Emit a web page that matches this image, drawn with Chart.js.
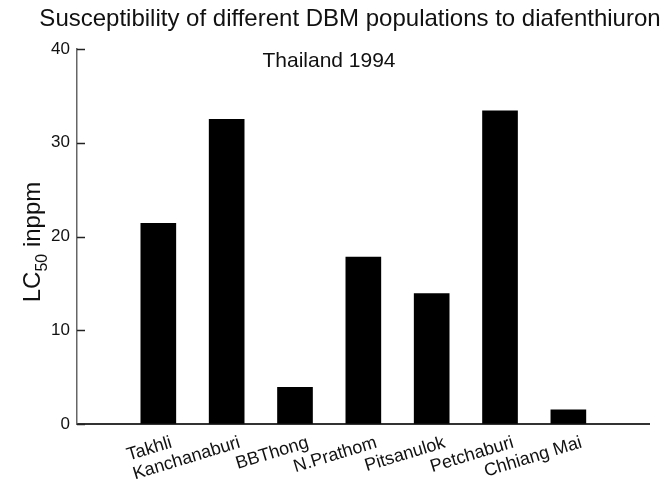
<!DOCTYPE html>
<html><head><meta charset="utf-8">
<script src="https://cdn.jsdelivr.net/npm/chart.js@4/dist/chart.umd.min.js"></script>
<style>html,body{margin:0;padding:0;background:#fff;}#wrap{width:666px;height:489px;position:relative;}</style>
</head><body><div id="wrap"><canvas id="c" width="666" height="489"></canvas></div>
<script>
const categories = ['Takhli', 'Kanchanaburi', 'BBThong', 'N.Prathom', 'Pitsanulok', 'Petchaburi', 'Chhiang Mai'];
const lc50Values = [21.4, 32.5, 3.9, 17.8, 13.9, 33.4, 1.5];
const yTicks = [0, 10, 20, 30, 40];
const titleText = 'Susceptibility of different DBM populations to diafenthiuron';
const subtitleText = 'Thailand 1994';
const yLabelMain = 'LC';
const yLabelSub = '50';
const yLabelRest = ' inppm';

const FONT = '"Liberation Sans", Arial, Helvetica, sans-serif';

const textPlugin = {
  id: 'texts',
  afterDraw(chart) {
    const ctx = chart.ctx;
    const ys = chart.scales.y;
    ctx.save();
    ctx.strokeStyle = '#222';
    ctx.lineWidth = 1.5;
    yTicks.forEach(v => {
      const py = Math.round(ys.getPixelForValue(v)) + 0.5;
      ctx.beginPath();
      ctx.moveTo(ys.right, py);
      ctx.lineTo(ys.right + 8, py);
      ctx.stroke();
    });
    ctx.restore();

    ctx.save();
    ctx.fillStyle = '#111';
    ctx.textBaseline = 'alphabetic';
    ctx.textAlign = 'center';
    ctx.font = '24px ' + FONT;
    ctx.fillText(titleText, 350, 26);
    ctx.font = '21px ' + FONT;
    ctx.fillText(subtitleText, 329, 67);
    ctx.restore();

    ctx.save();
    ctx.fillStyle = '#111';
    ctx.translate(40, 242);
    ctx.rotate(-Math.PI / 2);
    ctx.textBaseline = 'alphabetic';
    ctx.textAlign = 'left';
    const mainFont = '24px ' + FONT, subFont = '16px ' + FONT;
    ctx.font = mainFont; const w1 = ctx.measureText(yLabelMain).width;
    ctx.font = subFont; const w2 = ctx.measureText(yLabelSub).width;
    ctx.font = mainFont; const w3 = ctx.measureText(yLabelRest).width;
    let x = -(w1 + w2 + w3) / 2;
    ctx.font = mainFont; ctx.fillText(yLabelMain, x, 0); x += w1;
    ctx.font = subFont; ctx.fillText(yLabelSub, x, 7); x += w2;
    ctx.font = mainFont; ctx.fillText(yLabelRest, x, 0);
    ctx.restore();
  }
};

new Chart(document.getElementById('c'), {
  type: 'bar',
  data: {
    datasets: [{
      data: lc50Values.map((v, i) => ({ x: i + 1, y: v })),
      backgroundColor: '#000',
      borderWidth: 0,
      barThickness: 35
    }]
  },
  options: {
    responsive: false,
    animation: false,
    devicePixelRatio: 1,
    layout: { padding: { top: 49, right: 17, left: 0, bottom: 0 } },
    plugins: { legend: { display: false }, tooltip: { enabled: false }, title: { display: false } },
    scales: {
      x: {
        type: 'linear',
        offset: false,
        min: -0.19,
        max: 8.18,
        afterFit: s => { s.height = 65; },
        grid: { display: true, drawOnChartArea: false, drawTicks: false },
        border: { display: true, color: '#333', width: 2 },
        ticks: {
          stepSize: 1,
          autoSkip: false,
          includeBounds: false,
          minRotation: 17,
          maxRotation: 17,
          labelOffset: 13,
          padding: 8,
          color: '#111',
          font: { family: FONT, size: 18 },
          callback: v => {
            const r = Math.round(v);
            return (Math.abs(v - r) < 1e-6 && r >= 1 && r <= categories.length) ? categories[r - 1] : '';
          }
        }
      },
      y: {
        min: 0,
        max: 40,
        afterFit: s => { s.width = 77; },
        afterBuildTicks: s => { s.ticks = yTicks.map(v => ({ value: v })); },
        grid: { display: true, drawOnChartArea: false, drawTicks: false },
        border: { display: true, color: '#666', width: 1.5 },
        ticks: { padding: 7, color: '#111', font: { family: FONT, size: 17 } }
      }
    }
  },
  plugins: [textPlugin]
});
</script>
</body></html>
